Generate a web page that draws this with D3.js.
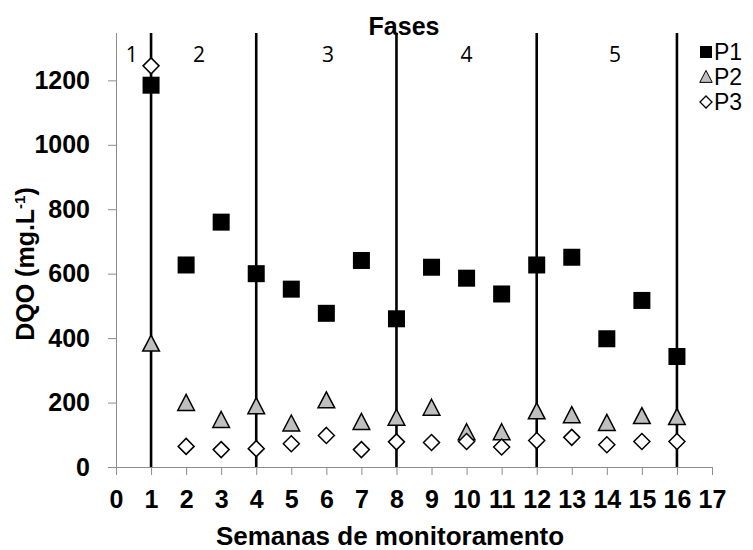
<!DOCTYPE html>
<html>
<head>
<meta charset="utf-8">
<script src="https://cdn.jsdelivr.net/npm/d3@7"></script>
<style>
  body { margin: 0; background: #fff; }
  svg { font-family: "Liberation Sans", Arial, sans-serif; }
</style>
</head>
<body>
<div id="chart"></div>
<script>
// weekly DQO values
var weeks = [1, 2, 3, 4, 5, 6, 7, 8, 9, 10, 11, 12, 13, 14, 15, 16];
var p1 = [1185, 627, 760, 600, 552, 477, 641, 460, 620, 586, 537, 627, 651, 398, 517, 343];
var p2 = [382, 198, 145, 188, 134, 206, 139, 152, 183, 107, 107, 172, 160, 136, 157, 154];
var p3 = [1245, 64, 54, 57, 72, 98, 54, 78, 76, 79, 62, 82, 92, 69, 79, 79];
var phaseLines = [1, 4, 8, 12, 16];
var phaseLabels = [{n: '1', x: 0.45}, {n: '2', x: 2.37}, {n: '3', x: 6.05}, {n: '4', x: 10}, {n: '5', x: 14.23}];
var yTicks = [0, 200, 400, 600, 800, 1000, 1200];
var xTicks = d3.range(0, 18);
var legendRows = ['P1', 'P2', 'P3'];

var width = 753, height = 550;
var margin = {top: 33, left: 116};
var w = 712 - margin.left, h = 467 - margin.top;
var font = '"Liberation Sans", Arial, sans-serif';

var svg = d3.select('#chart').append('svg')
    .attr('width', width)
    .attr('height', height);

var g = svg.append('g')
    .attr('transform', 'translate(' + margin.left + ',' + margin.top + ')');

var x = d3.scaleLinear().domain([0, 17]).range([0, w]);
var y = d3.scaleLinear().domain([0, 1347]).range([h, 0]);

// axes (grey lines, bold labels)
var yAxis = d3.axisLeft(y).tickValues(yTicks).tickFormat(d3.format('d')).tickSize(8).tickPadding(18);
var xAxis = d3.axisBottom(x).tickValues(xTicks).tickFormat(d3.format('d')).tickSize(8).tickPadding(15);

var ya = g.append('g').call(yAxis);
ya.attr('font-family', font).attr('font-size', 25);
ya.select('.domain').attr('stroke', '#8c8c8c').attr('d', 'M0.5,0V' + (h + 0.5));
ya.selectAll('.tick line').attr('stroke', '#8c8c8c');
ya.selectAll('.tick text').attr('font-weight', 'bold').attr('fill', '#000');

var xa = g.append('g').attr('transform', 'translate(0,' + h + ')').call(xAxis);
xa.attr('font-family', font).attr('font-size', 25);
xa.select('.domain').attr('stroke', '#8c8c8c').attr('d', 'M0,0.5H' + w);
xa.selectAll('.tick line').attr('stroke', '#8c8c8c');
xa.selectAll('.tick text').attr('font-weight', 'bold').attr('fill', '#000');

// phase separators
g.selectAll('.phase')
    .data(phaseLines)
    .enter().append('line')
    .attr('x1', function(d) { return x(d); })
    .attr('x2', function(d) { return x(d); })
    .attr('y1', 0)
    .attr('y2', h)
    .attr('stroke', '#000')
    .attr('stroke-width', 2.6);

g.selectAll('.phase-label')
    .data(phaseLabels)
    .enter().append('text')
    .attr('x', function(d) { return x(d.x); })
    .attr('y', 29)
    .attr('text-anchor', 'middle')
    .attr('font-family', '"Open Sans", sans-serif')
    .attr('font-size', 21)
    .text(function(d) { return d.n; });

svg.append('text')
    .attr('x', 404)
    .attr('y', 35)
    .attr('text-anchor', 'middle')
    .attr('font-size', 25)
    .attr('font-weight', 'bold')
    .text('Fases');

// marker shapes
function triPath(s) {
  return 'M0,' + (-s * 0.55) + 'L' + (s * 0.52) + ',' + (s * 0.45) + 'L' + (-s * 0.52) + ',' + (s * 0.45) + 'Z';
}
function diaPath(s) {
  return 'M0,' + (-s) + 'L' + s + ',0L0,' + s + 'L' + (-s) + ',0Z';
}

var pts = g.append('g');
pts.selectAll('.p2')
    .data(weeks)
    .enter().append('path')
    .attr('transform', function(d, i) { return 'translate(' + x(d) + ',' + y(p2[i]) + ')'; })
    .attr('d', triPath(16))
    .attr('fill', '#bfbfbf')
    .attr('stroke', '#000')
    .attr('stroke-width', 1.5);

pts.selectAll('.p3')
    .data(weeks)
    .enter().append('path')
    .attr('transform', function(d, i) { return 'translate(' + x(d) + ',' + y(p3[i]) + ')'; })
    .attr('d', diaPath(8))
    .attr('fill', '#fff')
    .attr('stroke', '#000')
    .attr('stroke-width', 1.5);

pts.selectAll('.p1')
    .data(weeks)
    .enter().append('rect')
    .attr('x', function(d) { return x(d) - 8.5; })
    .attr('y', function(d, i) { return y(p1[i]) - 8.5; })
    .attr('width', 17)
    .attr('height', 17)
    .attr('fill', '#000');

// axis titles
svg.append('text')
    .attr('x', 390)
    .attr('y', 545)
    .attr('text-anchor', 'middle')
    .attr('font-size', 26)
    .attr('font-weight', 'bold')
    .text('Semanas de monitoramento');

var yt = svg.append('text')
    .attr('transform', 'translate(34,264) rotate(-90)')
    .attr('text-anchor', 'middle')
    .attr('font-size', 25)
    .attr('font-weight', 'bold');
yt.append('tspan').text('DQO (mg.L');
yt.append('tspan').attr('dy', -9).attr('font-size', 15).text('-1');
yt.append('tspan').attr('dy', 9).text(')');

// legend
var legend = svg.append('g').attr('transform', 'translate(700,0)');
legend.selectAll('text')
    .data(legendRows)
    .enter().append('text')
    .attr('x', 14)
    .attr('y', function(d, i) { return 60 + i * 25; })
    .attr('font-size', 23)
    .text(function(d) { return d; });
legend.append('rect').attr('x', 0).attr('y', 46).attr('width', 12).attr('height', 12).attr('fill', '#000');
legend.append('path').attr('transform', 'translate(6,77)').attr('d', triPath(12))
    .attr('fill', '#bfbfbf').attr('stroke', '#000').attr('stroke-width', 1);
legend.append('path').attr('transform', 'translate(6,102)').attr('d', diaPath(6))
    .attr('fill', '#fff').attr('stroke', '#000').attr('stroke-width', 1.3);
</script>
</body>
</html>
